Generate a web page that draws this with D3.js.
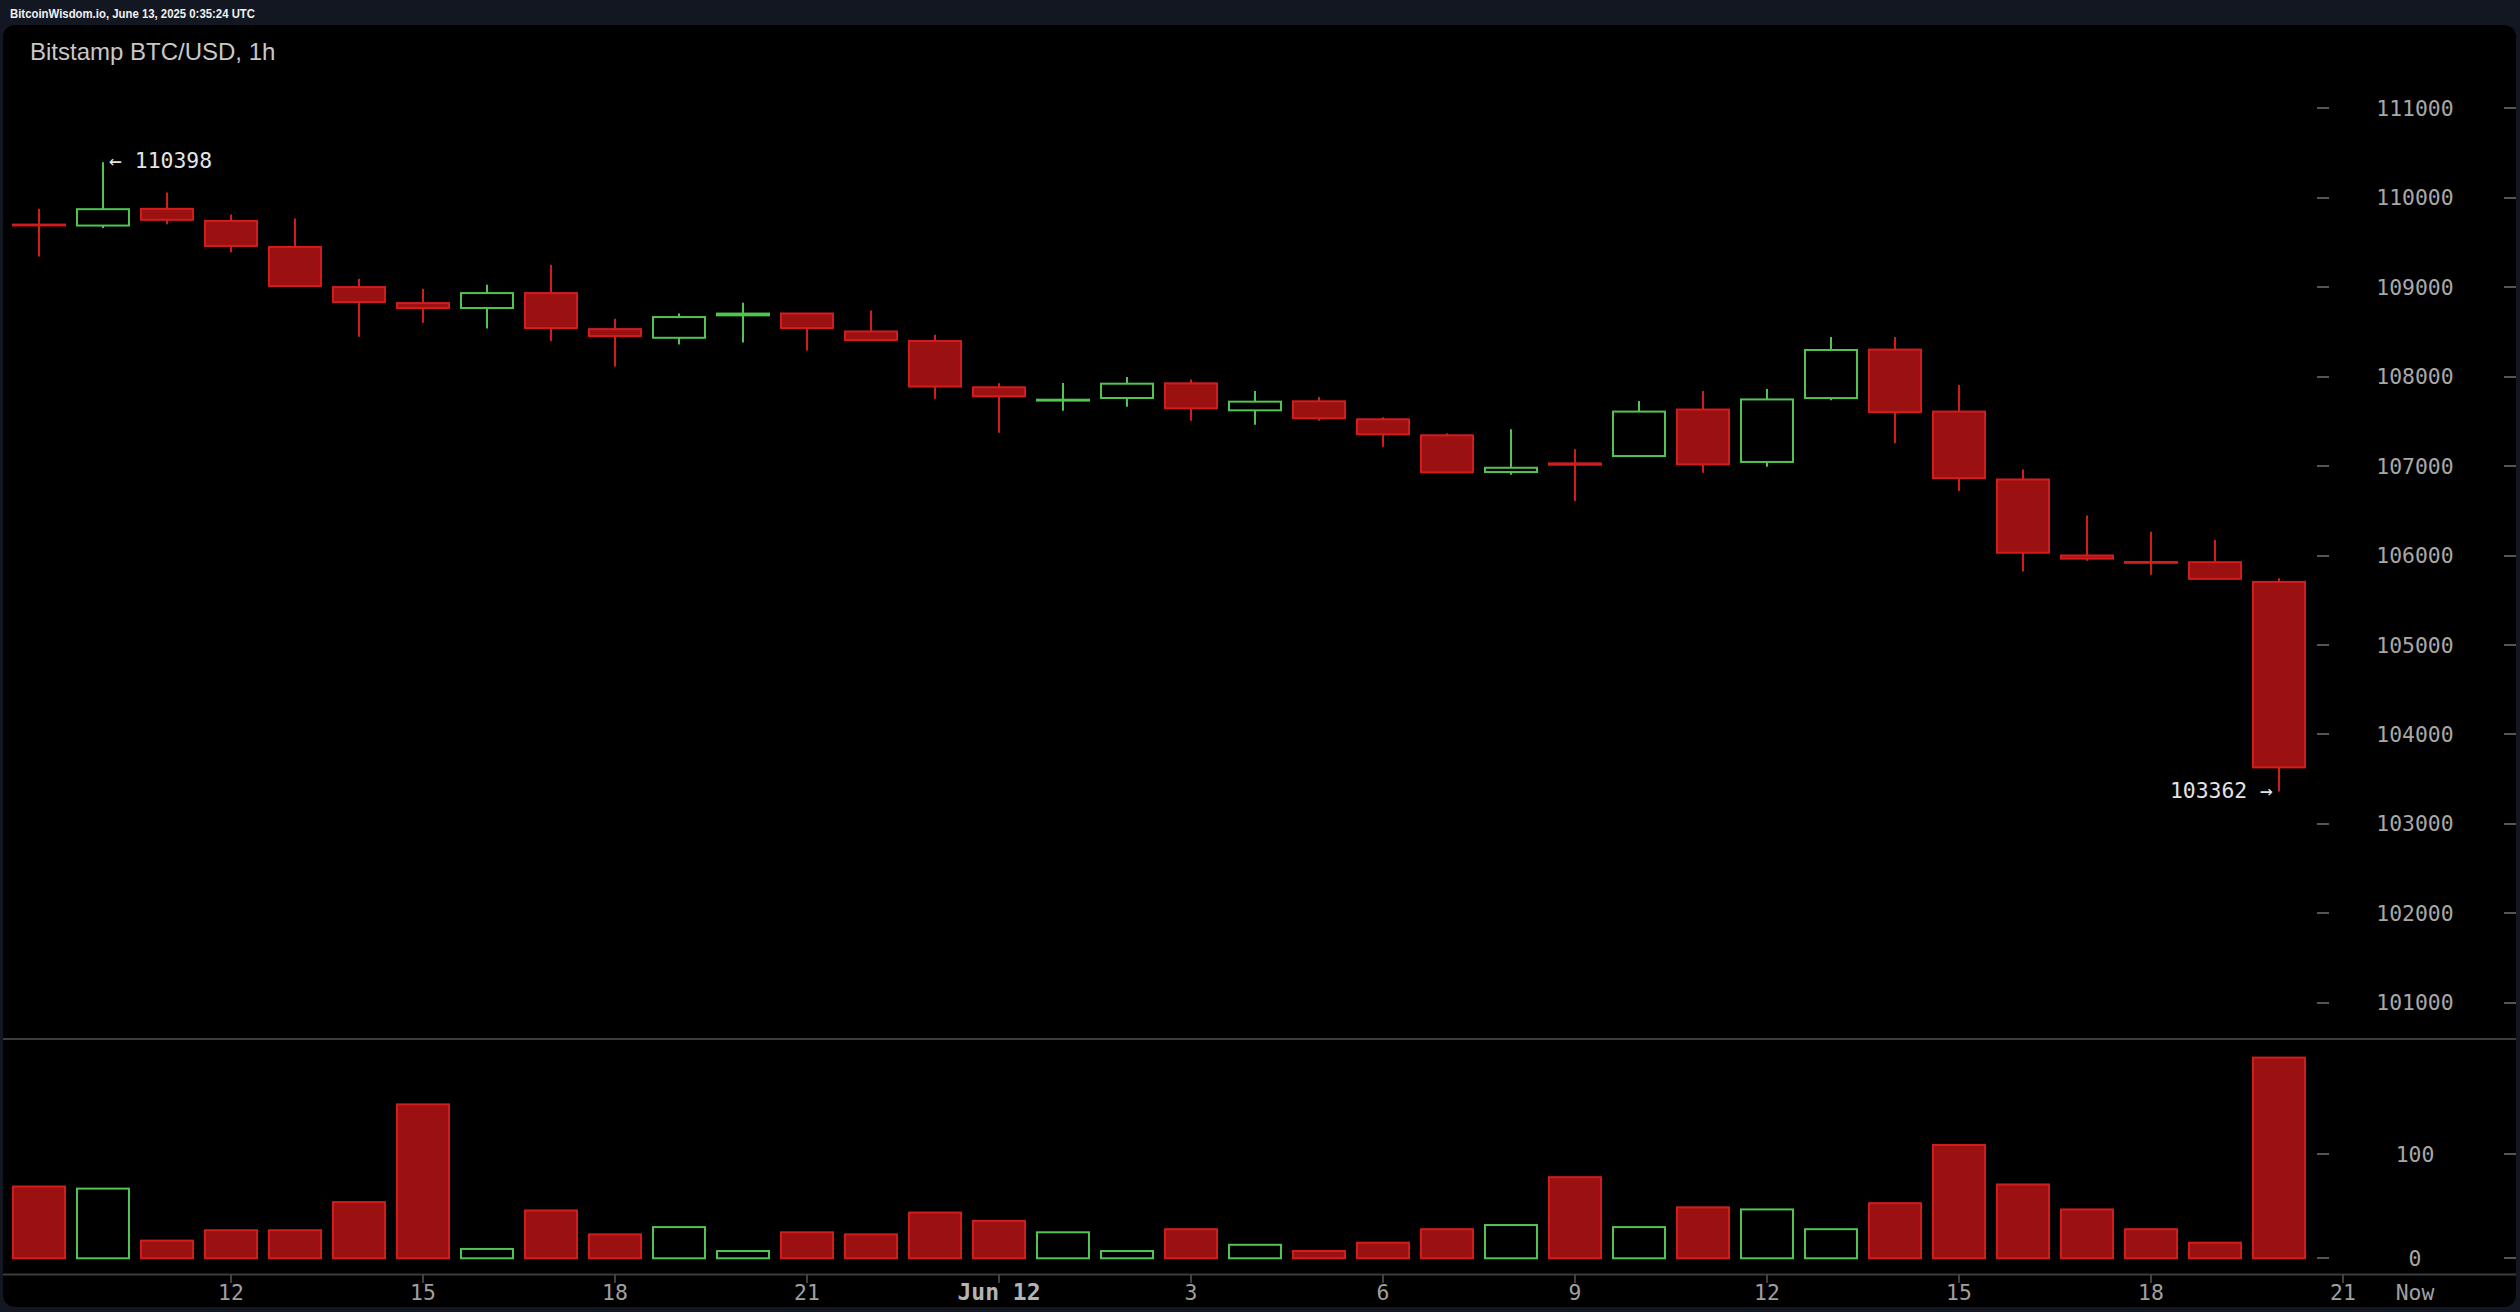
<!DOCTYPE html>
<html><head><meta charset="utf-8">
<script src="https://cdn.jsdelivr.net/npm/d3@7"></script>
<style>html,body{margin:0;padding:0;background:#131722;overflow:hidden}</style>
</head><body><svg id="c" width="2520" height="1312"></svg>
<script>
const header = "BitcoinWisdom.io, June 13, 2025 0:35:24 UTC";
const title = "Bitstamp BTC/USD, 1h";
const times = [
 "2025-06-11T09:00Z","2025-06-11T10:00Z","2025-06-11T11:00Z","2025-06-11T12:00Z","2025-06-11T13:00Z","2025-06-11T14:00Z",
 "2025-06-11T15:00Z","2025-06-11T16:00Z","2025-06-11T17:00Z","2025-06-11T18:00Z","2025-06-11T19:00Z","2025-06-11T20:00Z",
 "2025-06-11T21:00Z","2025-06-11T22:00Z","2025-06-11T23:00Z","2025-06-12T00:00Z","2025-06-12T01:00Z","2025-06-12T02:00Z",
 "2025-06-12T03:00Z","2025-06-12T04:00Z","2025-06-12T05:00Z","2025-06-12T06:00Z","2025-06-12T07:00Z","2025-06-12T08:00Z",
 "2025-06-12T09:00Z","2025-06-12T10:00Z","2025-06-12T11:00Z","2025-06-12T12:00Z","2025-06-12T13:00Z","2025-06-12T14:00Z",
 "2025-06-12T15:00Z","2025-06-12T16:00Z","2025-06-12T17:00Z","2025-06-12T18:00Z","2025-06-12T19:00Z","2025-06-12T20:00Z"];
const opens  = [109700,109689,109876,109741,109450,109001,108822,108767,108934,108531,108434,108685,108706,108505,108398,107881,107732,107761,
                107925,107623,107724,107523,107344,106933,107030,107112,107632,107046,107760,108302,107609,106850,106000,105928,105925,105705];
const highs  = [109876,110398,110058,109812,109767,109094,108982,109027,109251,108646,108707,108825,108710,108738,108469,107926,107930,107996,
                107967,107839,107771,107547,107366,107411,107188,107727,107839,107861,108444,108444,107906,106962,106446,106266,106172,105746];
const lows   = [109344,109663,109704,109390,109010,108447,108601,108538,108399,108112,108359,108381,108291,108405,107753,107372,107618,107664,
                107507,107462,107507,107216,106925,106903,106609,107105,106925,106993,107735,107256,106720,105821,105940,105784,105735,103362];
const closes = [109690,109872,109753,109461,109013,108834,108767,108934,108543,108453,108666,108705,108543,108409,107889,107780,107742,107921,
                107646,107720,107534,107355,106930,106981,107015,107609,107019,107745,108298,107604,106865,106031,105965,105918,105739,103631];
const volumes = [69,67,17,27,27,54,148,9,46,23,30,7,25,23,44,36,25,7,28,13,7,15,28,32,78,30,49,47,28,53,109,71,47,28,15,193];
const priceTicks = [101000,102000,103000,104000,105000,106000,107000,108000,109000,110000,111000];
const volumeTicks = [0,100];
const timeTickLabels = ["12","15","18","21","Jun 12","3","6","9","12","15","18","21"];
const nowLabel = "Now";
const highMark = 110398, lowMark = 103362;

const RED_FILL = "#9b1111", RED_STROKE = "#d31d1d", GREEN = "#52c452";
const MONO = "'DejaVu Sans Mono', monospace";
const svg = d3.select("#c");
const dates = times.map(t => new Date(t));

const x = d3.scaleUtc().domain([dates[0], dates[dates.length-1]]).range([39, 2279]);
const y = d3.scaleLinear().domain([101000, 111000]).range([1002.7, 108.3]);
const vy = d3.scaleLinear().domain([0, 100]).range([1258.3, 1154.3]);

// background
svg.append("rect").attr("x",0).attr("y",0).attr("width",2520).attr("height",1312).attr("fill","#131722");
svg.append("rect").attr("x",3).attr("y",25).attr("width",2513).attr("height",1282).attr("rx",12).attr("fill","#000");
svg.append("text").attr("x",10).attr("y",18).attr("fill","#f0f0f0").attr("font-family","'Liberation Sans', Arial")
  .attr("font-size",12.5).attr("font-weight","bold").attr("textLength",245).attr("lengthAdjust","spacingAndGlyphs").text(header);
svg.append("text").attr("x",30).attr("y",60).attr("fill","#c8c8c8").attr("font-family","'Liberation Sans', Arial")
  .attr("font-size",24).text(title);

// separators
svg.append("line").attr("x1",3).attr("x2",2516).attr("y1",1039).attr("y2",1039).attr("stroke","#3d3d3d").attr("stroke-width",2);
svg.append("line").attr("x1",3).attr("x2",2516).attr("y1",1274.5).attr("y2",1274.5).attr("stroke","#3d3d3d").attr("stroke-width",2);

// price axis
const pa = svg.append("g");
priceTicks.forEach(p => {
  const yy = Math.round(y(p));
  pa.append("line").attr("x1",2317).attr("x2",2329).attr("y1",yy).attr("y2",yy).attr("stroke","#555").attr("stroke-width",2);
  pa.append("line").attr("x1",2504).attr("x2",2516).attr("y1",yy).attr("y2",yy).attr("stroke","#555").attr("stroke-width",2);
  pa.append("text").attr("x",2415).attr("y",y(p)+7.6).attr("text-anchor","middle").attr("fill","#a8a8a8")
    .attr("font-family",MONO).attr("font-size",21.4).text(p);
});
volumeTicks.forEach(v => {
  const yy = Math.round(vy(v));
  pa.append("line").attr("x1",2317).attr("x2",2329).attr("y1",yy).attr("y2",yy).attr("stroke","#555").attr("stroke-width",2);
  pa.append("line").attr("x1",2504).attr("x2",2516).attr("y1",yy).attr("y2",yy).attr("stroke","#555").attr("stroke-width",2);
  pa.append("text").attr("x",2415).attr("y",vy(v)+7.6).attr("text-anchor","middle").attr("fill","#a8a8a8")
    .attr("font-family",MONO).attr("font-size",21.4).text(v);
});

// time axis
const tickDates = d3.utcHour.every(3).range(new Date("2025-06-11T12:00Z"), new Date("2025-06-12T22:00Z"));
const ta = svg.append("g");
tickDates.forEach((d,i) => {
  const xx = Math.round(x(d));
  ta.append("line").attr("x1",xx).attr("x2",xx).attr("y1",1275).attr("y2",1283).attr("stroke","#555").attr("stroke-width",1.5);
  const lab = timeTickLabels[i];
  const bold = lab.startsWith("Jun");
  ta.append("text").attr("x",xx).attr("y",1300).attr("text-anchor","middle").attr("fill", bold ? "#b4b4b4" : "#a0a0a0")
    .attr("font-family",MONO).attr("font-size", bold ? 23 : 21.4).attr("font-weight", bold ? "bold" : "normal").text(lab);
});
ta.append("text").attr("x",2415).attr("y",1300).attr("text-anchor","middle").attr("fill","#a0a0a0")
  .attr("font-family",MONO).attr("font-size",21.4).text(nowLabel);

// candles
const data = dates.map((d,i) => ({d, o:opens[i], h:highs[i], l:lows[i], c:closes[i], v:volumes[i], up: closes[i] >= opens[i]}));
const cg = svg.append("g");
data.forEach(k => {
  const cx = Math.round(x(k.d));
  const col = k.up ? GREEN : RED_STROKE;
  cg.append("line").attr("x1",cx).attr("x2",cx).attr("y1",y(k.h)).attr("y2",y(k.l)).attr("stroke",col).attr("stroke-width",2);
  const top = y(Math.max(k.o,k.c)), bot = y(Math.min(k.o,k.c));
  cg.append("rect").attr("x",cx-26).attr("y",top).attr("width",52).attr("height",Math.max(0,bot-top))
    .attr("fill", k.up ? "#000" : RED_FILL).attr("stroke",col).attr("stroke-width",2);
  // volume
  cg.append("rect").attr("x",cx-26).attr("y",vy(k.v)).attr("width",52).attr("height",vy(0)-vy(k.v))
    .attr("fill", k.up ? "#000" : RED_FILL).attr("stroke",col).attr("stroke-width",2);
});

// high/low annotations
const hi = data.find(k => k.h === highMark), lo = data.find(k => k.l === lowMark);
svg.append("text").attr("x",x(hi.d)+6).attr("y",y(highMark)+6).attr("fill","#e4e4e4")
  .attr("font-family",MONO).attr("font-size",21.4).text("\u2190 " + highMark);
svg.append("text").attr("x",x(lo.d)-6).attr("y",y(lowMark)+7).attr("text-anchor","end").attr("fill","#e4e4e4")
  .attr("font-family",MONO).attr("font-size",21.4).text(lowMark + " \u2192");
</script></body></html>
